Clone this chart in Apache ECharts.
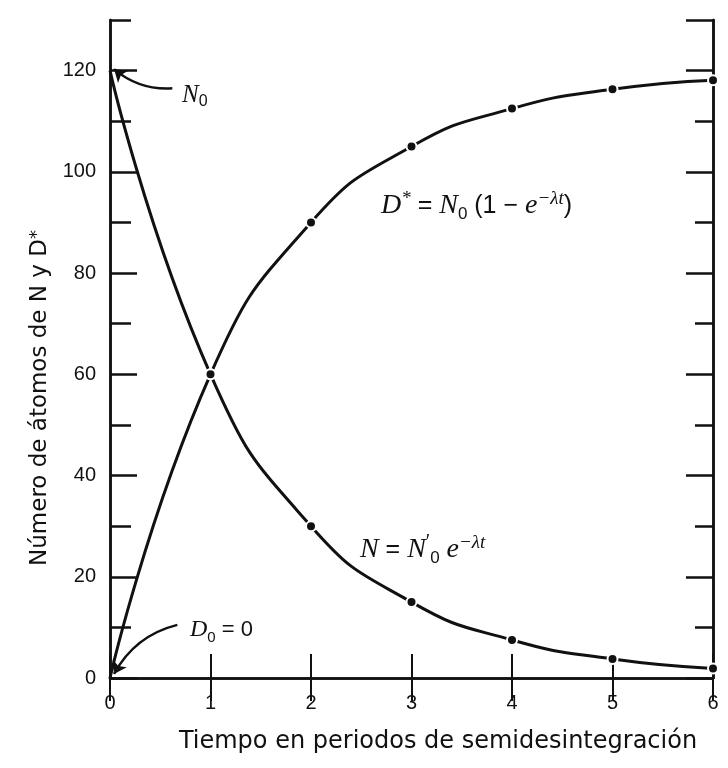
<!DOCTYPE html>
<html>
<head>
<meta charset="utf-8">
<script src="https://cdn.jsdelivr.net/npm/echarts@6/dist/echarts.min.js"></script>
<style>
  html, body { margin: 0; padding: 0; background: #fff; }
  #chart { width: 728px; height: 768px; }
</style>
</head>
<body>
<div id="chart"></div>
<script>
// tiempo en periodos de semidesintegración
const periods = [0, 1, 2, 3, 4, 5, 6]
// átomos del padre N y del hijo D*
const nAtoms = [120, 60, 30, 15, 7.5, 3.75, 1.9]
const dAtoms = [0, 60, 90, 105, 112.5, 116.3, 118.1]
const yTicks = [0, 20, 40, 60, 80, 100, 120]

const chart = echarts.init(document.getElementById('chart'))

const black = '#111'
const sansFont = '"Liberation Sans", Arial, sans-serif'
const serifFont = '"Liberation Serif", "DejaVu Serif", serif'

function buildData(values) {
  return periods.map((t, i) => ({
    value: [t, values[i]],
    symbolSize: i === 0 ? 0 : 10,
  }))
}

const yBase = {
  type: 'value', min: 0, max: 130,
  splitLine: { show: false },
  axisLine: { show: true, lineStyle: { color: black, width: 2.5 } },
}
const xBase = {
  type: 'value', min: 0, max: 6, interval: 1,
  splitLine: { show: false },
  axisLine: { show: true, lineStyle: { color: black, width: 2.5 } },
}

const formulaRich = {
  i: { fontFamily: serifFont, fontStyle: 'italic', fontSize: 28, lineHeight: 34 },
  n: { fontFamily: sansFont, fontSize: 25, lineHeight: 34 },
  b: { fontFamily: sansFont, fontSize: 17, verticalAlign: 'bottom' },
  p: { fontFamily: serifFont, fontSize: 20, verticalAlign: 'top' },
  sup: { fontFamily: serifFont, fontStyle: 'italic', fontSize: 19, verticalAlign: 'top' },
}

chart.setOption({
  animation: false,
  backgroundColor: '#fff',
  grid: { left: 110, right: 15, top: 20, bottom: 90 },
  xAxis: [
    {
      ...xBase, position: 'bottom',
      axisTick: { inside: true, length: 24, lineStyle: { color: black, width: 2 } },
      axisLabel: { color: black, fontSize: 20, fontFamily: sansFont, margin: 15 },
    },
    {
      ...xBase, position: 'top',
      axisTick: { inside: true, length: 23, lineStyle: { color: black, width: 2 } },
      axisLabel: { show: false },
    },
  ],
  yAxis: [
    {
      ...yBase, position: 'left', interval: 20,
      axisTick: { inside: true, length: 27, lineStyle: { color: black, width: 2.5 } },
      axisLabel: {
        color: black, fontSize: 20, fontFamily: sansFont, margin: 14,
        showMaxLabel: false,
        formatter: v => yTicks.includes(v) ? String(v) : '',
      },
    },
    {
      ...yBase, position: 'left', interval: 10,
      axisTick: { inside: true, length: 21, lineStyle: { color: black, width: 2.5 } },
      axisLabel: { show: false },
    },
    {
      ...yBase, position: 'right', interval: 20,
      axisTick: { inside: true, length: 27, lineStyle: { color: black, width: 2.5 } },
      axisLabel: { show: false },
    },
    {
      ...yBase, position: 'right', interval: 10,
      axisTick: { inside: true, length: 18, lineStyle: { color: black, width: 2.5 } },
      axisLabel: { show: false },
    },
  ],
  series: [
    {
      name: 'N',
      type: 'line',
      smooth: 0.5,
      data: buildData(nAtoms),
      symbol: 'circle',
      lineStyle: { color: black, width: 3 },
      itemStyle: { color: black, borderColor: '#fff', borderWidth: 2 },
    },
    {
      name: 'D*',
      type: 'line',
      smooth: 0.5,
      data: buildData(dAtoms),
      symbol: 'circle',
      lineStyle: { color: black, width: 3 },
      itemStyle: { color: black, borderColor: '#fff', borderWidth: 2 },
    },
    {
      // flechas de N0 y D0
      type: 'lines',
      coordinateSystem: 'cartesian2d',
      symbol: ['none', 'arrow'],
      symbolSize: 12,
      lineStyle: { color: black, width: 2.5, opacity: 1 },
      data: [
        { coords: [[0.62, 116.5], [0.04, 120.3]], lineStyle: { curveness: 0.2 } },
        { coords: [[0.67, 10.5], [0.04, 0.8]], lineStyle: { curveness: -0.22 } },
      ],
    },
  ],
  graphic: [
    {
      type: 'text', x: 40, y: 398, rotation: Math.PI / 2,
      style: {
        text: 'Número de átomos de N y D{s|*}',
        font: '23px "DejaVu Sans", sans-serif',
        fill: black, align: 'center', verticalAlign: 'middle',
        rich: { s: { fontSize: 18, verticalAlign: 'top', fontFamily: 'DejaVu Sans' } },
      },
    },
    {
      type: 'text', x: 438, y: 742,
      style: {
        text: 'Tiempo en periodos de semidesintegración',
        font: '24px "DejaVu Sans", sans-serif',
        fill: black, align: 'center', verticalAlign: 'middle',
      },
    },
    {
      type: 'text', x: 182, y: 95,
      style: {
        text: '{i|N}{b|0}',
        fill: black, verticalAlign: 'middle',
        rich: {
          i: { fontFamily: serifFont, fontStyle: 'italic', fontSize: 25, lineHeight: 30 },
          b: { fontFamily: sansFont, fontSize: 16, verticalAlign: 'bottom' },
        },
      },
    },
    {
      type: 'text', x: 190, y: 630,
      style: {
        text: '{i|D}{b|0} = 0',
        fill: black, verticalAlign: 'middle',
        font: '22px ' + sansFont,
        rich: {
          i: { fontFamily: serifFont, fontStyle: 'italic', fontSize: 24, lineHeight: 30 },
          b: { fontFamily: sansFont, fontSize: 15, verticalAlign: 'bottom' },
        },
      },
    },
    {
      type: 'text', x: 381, y: 206,
      style: {
        text: '{i|D}{sup|*}{n| = }{i|N}{b|0}{n| (1 − }{i|e}{sup|−λt}{n|)}',
        fill: black, verticalAlign: 'middle',
        rich: formulaRich,
      },
    },
    {
      type: 'text', x: 360, y: 550,
      style: {
        text: '{i|N}{n| = }{i|N}{p|\u2032}{b|0}{n| }{i|e}{sup|−λt}',
        fill: black, verticalAlign: 'middle',
        rich: formulaRich,
      },
    },
  ],
})

window.addEventListener('resize', () => chart.resize())
</script>
</body>
</html>
